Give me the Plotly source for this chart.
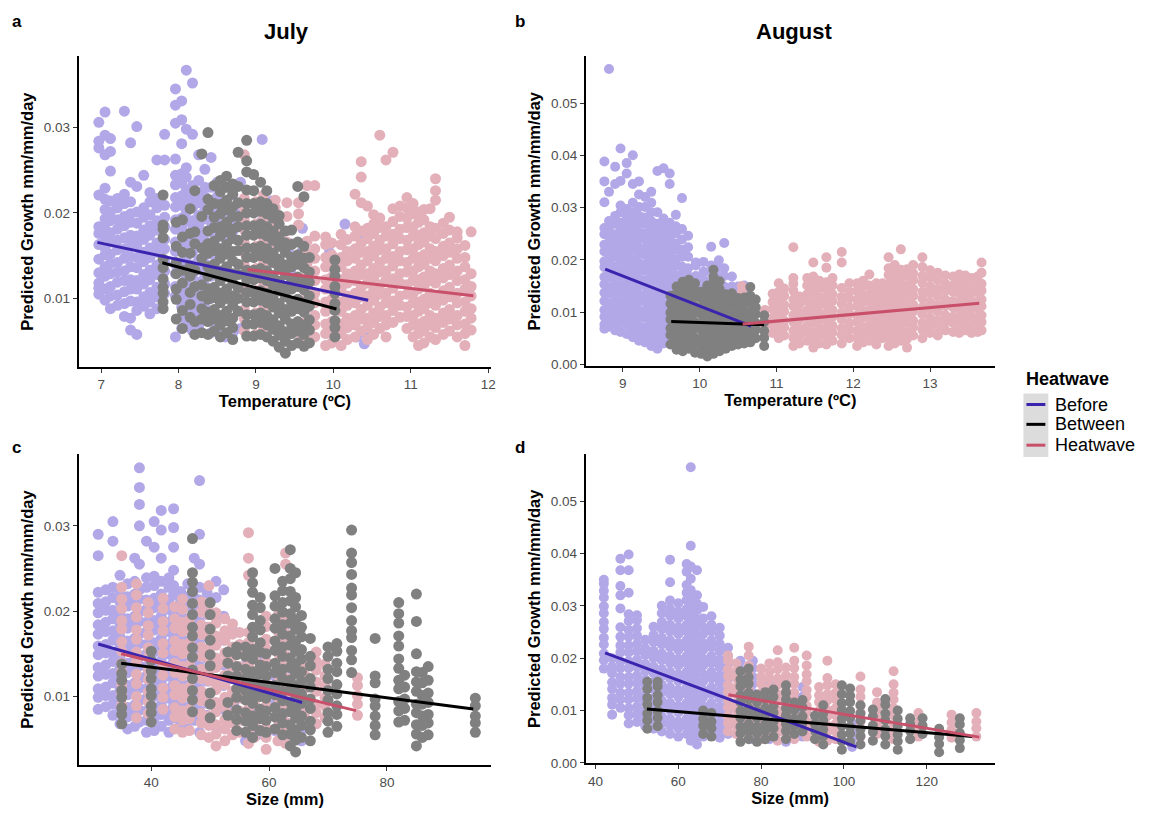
import plotly.graph_objects as go

# ---------------- DATA (stripes: (x, [y values])) ----------------
# Panel a: July, temperature
a_before = [
    (6.97, [.0105, .0112, .0118, .013, .0146, .0163, .0176, .0184, .0221, .0276, .0284, .0306]),
    (7.05, [.0098, .0111, .0126, .0137, .0151, .0159, .0172, .0181, .0193, .0204, .0216, .0229, .0268, .0291, .0318]),
    (7.12, [.0088, .0103, .0114, .0129, .0141, .0152, .0166, .0177, .0191, .0201, .0214, .0249, .0272, .0287]),
    (7.21, [.0092, .0104, .0119, .0131, .0142, .0157, .0168, .0181, .0192, .0206, .0217]),
    (7.3, [.0079, .0094, .0108, .0121, .0132, .0147, .0158, .0171, .0185, .0196, .0211, .0222, .0319]),
    (7.38, [.0063, .0077, .0097, .0111, .0122, .0137, .0149, .0163, .0174, .0189, .0199, .0213, .0236, .0282]),
    (7.46, [.0058, .0086, .0096, .0111, .0121, .0136, .0148, .0162, .0173, .0188, .0201, .0231, .0301]),
    (7.55, [.0091, .0102, .0117, .0128, .0143, .0154, .0169, .018, .0195, .0206, .0244]),
    (7.63, [.0082, .0096, .0107, .0122, .0133, .0148, .0159, .0174, .0185, .0198, .0213, .0224]),
    (7.72, [.0088, .0102, .0113, .0128, .0139, .0154, .0165, .018, .0191, .0206, .0217, .0262]),
    (7.82, [.0106, .0117, .0132, .0143, .0158, .0169, .0184, .0195, .0209, .0262, .0292]),
    (7.96, [.0055, .0103, .0114, .0129, .014, .0155, .0166, .0181, .0192, .0207, .0218, .0233, .0244, .0263, .0305, .0326, .0345]),
    (8.04, [.0065, .0079, .009, .0105, .0116, .0131, .0142, .0157, .0168, .0183, .0194, .0209, .022, .0235, .0246, .0281, .0309, .0331]),
    (8.1, [.0072, .0086, .0097, .0112, .0123, .0138, .0149, .0164, .0175, .019, .0201, .0216, .0227, .0242, .0253, .0298, .0367]),
    (8.18, [.0062, .0076, .0087, .0102, .0113, .0128, .0139, .0154, .0165, .018, .0191, .0206, .0217, .0232, .0292, .0352]),
    (8.26, [.0068, .0082, .0093, .0108, .0119, .0134, .0145, .016, .0171, .0186, .0197, .0212, .0223, .0238, .0268]),
    (8.34, [.0075, .0089, .01, .0115, .0126, .0141, .0152, .0167, .0178, .0193, .0204, .0219, .023, .0251]),
    (8.42, [.006, .0074, .0085, .01, .0111, .0126, .0137, .0152, .0163, .0178, .0189, .0204, .0215, .023, .0265]),
    (8.5, [.0065, .0146, .0159, .0176, .0189, .0206, .0219, .0236]),
    (8.6, [.0055, .0171, .0184, .0201, .0214, .0231]),
    (8.7, [.006, .0178, .0193, .0205, .0221]),
    (8.8, [.0065, .0191, .0204, .0236]),
    (9.08, [.0161, .0174, .0191, .0204, .0286]),
    (9.2, [.0156, .0169, .0186, .0214]),
    (9.45, [.0134, .0151, .0164]),
    (9.6, [.0156, .0182]),
    (9.95, [.0066, .0138, .0154]),
    (10.15, [.0068, .0146, .0187]),
    (10.3, [.0055, .0126]),
    (10.4, [.0047, .0061, .0175]),
]
a_between = [
    (7.8, [.0088, .0096, .0106, .0113, .0123, .0136, .0146, .0171, .0181, .0186, .0221]),
    (7.97, [.0076, .0099, .0111, .0129, .0142, .0161, .0189]),
    (8.05, [.0065, .0086, .0118, .0133, .0154, .0172, .0192]),
    (8.15, [.0078, .0093, .0107, .0126, .0138, .0153, .0176, .0205]),
    (8.21, [.0058, .0073, .0114, .0133, .0164, .0178, .0226]),
    (8.3, [.006, .0076, .0088, .0103, .0116, .0147, .0159, .0196, .0269]),
    (8.38, [.0058, .0073, .0084, .0099, .0111, .0126, .0137, .0153, .0164, .0179, .0204, .0216, .0294]),
    (8.46, [.0062, .0076, .0087, .0101, .0113, .0129, .014, .0156, .0167, .0183, .0195, .0211, .0232]),
    (8.54, [.0055, .0069, .008, .0095, .0106, .0121, .0132, .0147, .0158, .0173, .0184, .0199, .021, .0225, .0238]),
    (8.62, [.006, .0074, .0085, .01, .0111, .0126, .0137, .0152, .0163, .0178, .0189, .0204, .0215, .023, .0243]),
    (8.7, [.0052, .0066, .0077, .0092, .0103, .0118, .0129, .0144, .0155, .017, .0181, .0196, .0207, .0222, .0234]),
    (8.77, [.0085, .01, .0112, .0128, .014, .0156, .0168, .0184, .0196, .0212, .0231, .0271]),
    (8.88, [.0056, .007, .0081, .0096, .0107, .0122, .0133, .0148, .0159, .0174, .0185, .02, .0211, .0227, .0248, .0261, .0285]),
    (8.97, [.0056, .007, .0081, .0096, .0107, .0122, .0133, .0148, .0159, .0174, .0185, .02, .0211, .0226, .0245]),
    (9.06, [.0058, .0072, .0083, .0098, .0109, .0124, .0135, .015, .0161, .0176, .0187, .0202, .0213, .0236]),
    (9.14, [.0055, .0069, .008, .0095, .0106, .0121, .0132, .0147, .0158, .0173, .0184, .0199, .0211, .0226]),
    (9.22, [.005, .0064, .0075, .009, .0101, .0116, .0127, .0142, .0153, .0168, .0179, .0194, .0205]),
    (9.3, [.0043, .0057, .0068, .0083, .0094, .0109, .012, .0135, .0146, .0161, .0172, .0187, .0197]),
    (9.38, [.0036, .005, .0061, .0076, .0087, .0102, .0113, .0128, .0139, .0154, .0165, .0179]),
    (9.46, [.0045, .0059, .007, .0085, .0096, .0111, .0122, .0137, .0148, .0163, .018]),
    (9.54, [.0048, .0062, .0073, .0088, .0099, .0114, .0125, .014, .0151, .0166, .0231]),
    (9.62, [.0044, .0058, .0069, .0084, .0095, .011, .0121, .0136, .0147, .0161, .0219]),
    (9.69, [.0048, .0063, .0075, .0091, .0103, .0119, .0131, .0148]),
    (10.02, [.0055, .0066, .0074, .0086, .0094, .0106, .0114, .0126, .0134, .0145]),
]
a_heatwave = [
    (8.85, [.0062, .0076, .0087, .0102, .0113, .0128, .0139, .0154, .0165, .018, .0191, .0206, .0217, .0268]),
    (9.0, [.0058, .0072, .0083, .0098, .0109, .0124, .0135, .015, .0161, .0176, .0187, .0202, .0213]),
    (9.1, [.0065, .0079, .009, .0105, .0116, .0131, .0142, .0157, .0168, .0183, .0194, .0209, .0221]),
    (9.25, [.0146, .0159, .0176, .0189, .0206, .0215]),
    (9.4, [.0085, .0166, .0179, .0196, .0212]),
    (9.55, [.006, .0186, .0199, .0212]),
    (9.66, [.005, .0063, .0074, .0089, .01, .0115, .0126, .0141, .0152, .0167, .0232]),
    (9.76, [.0055, .0069, .008, .0095, .0106, .0121, .0132, .0147, .0158, .0173, .0232]),
    (9.9, [.0045, .0059, .007, .0085, .0096, .0111, .0122, .0137, .0148, .0163, .0172]),
    (9.98, [.0048, .0062, .0073, .0088, .0099, .0114, .0125, .014, .0151, .0165]),
    (10.1, [.0045, .0059, .007, .0085, .0096, .0111, .0122, .0137, .0148, .0163, .0175]),
    (10.18, [.0052, .0066, .0077, .0092, .0103, .0118, .0129, .0144, .0155, .0169]),
    (10.28, [.0055, .0069, .008, .0095, .0106, .0121, .0132, .0147, .0158, .0173, .0184, .0222]),
    (10.36, [.0062, .0076, .0087, .0102, .0113, .0128, .0139, .0154, .0165, .0179, .0212, .0242, .026]),
    (10.44, [.0052, .0066, .0077, .0092, .0103, .0118, .0129, .0144, .0155, .017, .0182, .0208]),
    (10.52, [.0058, .0072, .0083, .0098, .0109, .0124, .0135, .015, .0161, .0176, .0187, .0198]),
    (10.6, [.0065, .0079, .009, .0105, .0116, .0131, .0142, .0157, .0168, .0183, .0194, .0291]),
    (10.68, [.0055, .0069, .008, .0095, .0106, .0121, .0132, .0147, .0158, .0173, .0184, .0262]),
    (10.77, [.0072, .0086, .0097, .0112, .0123, .0138, .0149, .0164, .0175, .019, .0205, .0271]),
    (10.86, [.0078, .0092, .0103, .0118, .0129, .0144, .0155, .017, .0181, .0196, .0208]),
    (10.95, [.0065, .0079, .009, .0105, .0116, .0131, .0142, .0157, .0168, .0183, .0194, .0206, .0218]),
    (11.03, [.0055, .0069, .008, .0095, .0106, .0121, .0132, .0147, .0158, .0173, .0184, .0199, .0211]),
    (11.1, [.0045, .0059, .007, .0085, .0096, .0111, .0122, .0137, .0148, .0163, .0174, .0189, .0201]),
    (11.17, [.0048, .0062, .0073, .0088, .0099, .0114, .0125, .014, .0151, .0166, .0177, .0192, .0204]),
    (11.25, [.0055, .0069, .008, .0095, .0106, .0121, .0132, .0147, .0158, .0173, .0184, .0205]),
    (11.32, [.0052, .0066, .0077, .0092, .0103, .0118, .0129, .0144, .0155, .017, .0182, .0215, .0226, .024]),
    (11.42, [.0058, .0072, .0083, .0098, .0109, .0124, .0135, .015, .0161, .0176, .0188]),
    (11.5, [.0062, .0076, .0087, .0102, .0113, .0128, .0139, .0154, .0165, .018, .0195]),
    (11.6, [.0055, .0069, .008, .0095, .0106, .0121, .0132, .0147, .0158, .0171, .0178]),
    (11.7, [.0045, .0059, .007, .0085, .0096, .0111, .0122, .0137, .0148, .0162]),
    (11.78, [.0063, .0077, .0088, .0103, .0114, .0129, .0178]),
]

# Panel b: August, temperature
b_before = [
    (8.76, [.0068, .0076, .0091, .0104, .0121, .0137, .0153, .0167, .0186, .0197, .0216, .0229, .0249, .0261, .031, .035, .0388]),
    (8.82, [.0072, .0087, .0103, .0117, .0136, .0147, .0166, .0179, .0196, .0211, .0229, .0244, .0261, .0274, .033, .0565]),
    (8.9, [.0065, .0081, .0094, .0111, .0124, .0141, .0157, .0173, .0187, .0206, .0219, .0236, .0249, .0269, .0284, .0345, .0378]),
    (8.97, [.0062, .0079, .0091, .0109, .0121, .0139, .0151, .0169, .0181, .0199, .0211, .0229, .0241, .0259, .0271, .0291, .0304, .0351, .0413]),
    (9.05, [.0058, .0076, .0087, .0103, .0117, .0133, .0147, .0163, .0177, .0193, .0207, .0223, .0237, .0253, .0267, .0283, .0297, .0365, .0385]),
    (9.13, [.0052, .0069, .0081, .0099, .0111, .0129, .0141, .0159, .0171, .0189, .0201, .0219, .0231, .0249, .0261, .0279, .0291, .0309, .0345, .04]),
    (9.21, [.0045, .0061, .0074, .0091, .0104, .0121, .0134, .0151, .0164, .0181, .0194, .0211, .0224, .0241, .0254, .0271, .0284, .0301, .0325, .035]),
    (9.29, [.0042, .0059, .0071, .0089, .0101, .0119, .0131, .0149, .0161, .0179, .0191, .0209, .0221, .0239, .0251, .0269, .0281, .0301, .032]),
    (9.37, [.0035, .0051, .0064, .0081, .0094, .0111, .0124, .0141, .0154, .0171, .0184, .0201, .0214, .0231, .0244, .0261, .0274, .0291, .0309, .033]),
    (9.45, [.003, .0046, .0059, .0076, .0089, .0106, .0119, .0136, .0149, .0166, .0179, .0196, .0209, .0226, .0239, .0256, .0269, .0291, .037]),
    (9.53, [.004, .0056, .0069, .0086, .0099, .0116, .0129, .0146, .0159, .0176, .0189, .0206, .0219, .0236, .0249, .0266, .0279, .0375]),
    (9.61, [.0045, .0061, .0074, .0091, .0104, .0121, .0134, .0151, .0164, .0181, .0194, .0211, .0224, .0241, .0254, .0271, .0345, .0365]),
    (9.69, [.0052, .0069, .0081, .0099, .0111, .0129, .0141, .0159, .0171, .0189, .0201, .0219, .0231, .0251, .0264, .0286]),
    (9.77, [.0058, .0086, .0117, .0139, .0154, .0173, .0187, .0206, .0219, .0239, .0259, .0318]),
    (9.85, [.0112, .0131, .0147, .0169, .0184, .0206, .0224, .0246]),
    (9.95, [.0135, .0153, .0169, .0189, .0195]),
    (10.05, [.0145, .0163, .0177, .0196]),
    (10.15, [.0125, .0143, .0157, .0176, .0189, .0225]),
    (10.25, [.0138, .0153, .0167, .0186, .0199]),
    (10.32, [.012, .0136, .0149, .0169, .0184, .0232]),
    (10.42, [.0115, .0133, .0149, .0168]),
    (10.5, [.0098, .0116, .0131, .0149]),
    (10.58, [.0085, .0106, .0119, .0136, .0151]),
    (10.66, [.006, .0079, .0094]),
]
b_between = [
    (9.62, [.0038, .0056, .0069, .0086, .0099, .0116, .0131]),
    (9.7, [.0028, .0046, .0059, .0076, .0089, .0106, .0119, .0136, .0149]),
    (9.78, [.0025, .0041, .0054, .0071, .0084, .0101, .0114, .0131, .0144, .0158]),
    (9.86, [.003, .0046, .0059, .0076, .0089, .0106, .0119, .0136, .0149, .0162]),
    (9.94, [.0022, .0039, .0051, .0069, .0081, .0099, .0111, .0129, .0141, .0155]),
    (10.02, [.002, .0036, .0049, .0066, .0079, .0096, .0109, .0126, .0139]),
    (10.1, [.0015, .0031, .0044, .0061, .0074, .0091, .0104, .0121, .0134, .0151]),
    (10.18, [.002, .0036, .0049, .0066, .0079, .0096, .0109, .0126, .0139, .0156, .0167, .0181]),
    (10.26, [.0025, .0041, .0054, .0071, .0084, .0101, .0114, .0131, .0144, .0159]),
    (10.34, [.003, .0046, .0059, .0076, .0089, .0106, .0119, .0134]),
    (10.42, [.0035, .0051, .0064, .0081, .0094, .0111, .0124, .0136]),
    (10.5, [.0038, .0053, .0067, .0083, .0097, .0113, .0127]),
    (10.58, [.004, .0056, .0069, .0086, .0099, .0116, .0128]),
    (10.66, [.0042, .0059, .0071, .0089, .0101, .0119, .0131, .0148]),
    (10.73, [.005, .0066, .0079, .0096, .0109, .0124]),
    (10.84, [.0035, .0051, .0064, .0081, .0094]),
]
b_heatwave = [
    (10.55, [.0095, .0111, .0124, .0139, .015]),
    (10.63, [.007, .0086, .0099, .0116, .0128]),
    (10.72, [.008, .0096, .0109, .0124]),
    (10.85, [.0075, .0091, .0104]),
    (10.95, [.006, .0076, .0089, .0106, .0119, .0135]),
    (11.03, [.005, .0066, .0079, .0096, .0109, .0126, .0139, .0155]),
    (11.1, [.0055, .0071, .0084, .0101, .0114, .0131, .0145]),
    (11.22, [.0035, .0051, .0064, .0081, .0094, .0111, .0124, .0141, .0154, .0165, .0224]),
    (11.3, [.004, .0056, .0069, .0086, .0099, .0116, .013]),
    (11.4, [.0045, .0061, .0074, .0091, .0104, .0121, .0134, .0151, .0165]),
    (11.48, [.0032, .0049, .0061, .0079, .0091, .0109, .0121, .0139, .0151, .0168, .0195]),
    (11.56, [.004, .0056, .0069, .0086, .0099, .0116, .0129, .0146, .016]),
    (11.65, [.0038, .0053, .0067, .0083, .0097, .0113, .0127, .0143, .0157, .0185, .0205]),
    (11.73, [.0045, .0061, .0074, .0091, .0104, .0121, .0134, .0151, .0165]),
    (11.85, [.004, .0056, .0069, .0086, .0099, .0116, .0129, .0146, .0195, .0215]),
    (11.95, [.005, .0066, .0079, .0096, .0109, .0126, .0139, .0155]),
    (12.05, [.0035, .0051, .0064, .0081, .0094, .0111, .0124, .0141, .0155]),
    (12.13, [.0042, .0059, .0071, .0089, .0101, .0119, .0131, .0149, .016]),
    (12.21, [.0045, .0061, .0074, .0091, .0104, .0121, .0134, .0151, .0172]),
    (12.3, [.0038, .0053, .0067, .0083, .0097, .0113, .0127, .0143, .0155]),
    (12.38, [.005, .0066, .0079, .0096, .0109, .0126, .0139, .0155]),
    (12.46, [.0035, .0051, .0064, .0081, .0094, .0111, .0124, .0141, .0154, .0171, .0184, .0205]),
    (12.54, [.004, .0056, .0069, .0086, .0099, .0116, .0129, .0146, .0159, .0176, .019]),
    (12.62, [.0045, .0061, .0074, .0091, .0104, .0121, .0134, .0151, .0164, .0181, .022]),
    (12.7, [.0032, .0049, .0061, .0079, .0091, .0109, .0121, .0139, .0151, .0169, .0182]),
    (12.78, [.0055, .0071, .0084, .0101, .0114, .0131, .0144, .0161, .0174, .019]),
    (12.9, [.005, .0066, .0079, .0096, .0109, .0126, .0139, .0156, .0169, .0186, .0205]),
    (13.0, [.006, .0076, .0089, .0106, .0119, .0136, .0149, .0166, .018]),
    (13.1, [.0055, .0071, .0084, .0101, .0114, .0131, .0144, .0161, .0175]),
    (13.2, [.0065, .0081, .0094, .0111, .0124, .0141, .0154, .017]),
    (13.3, [.0062, .0079, .0091, .0109, .0121, .0139, .0151, .0168]),
    (13.38, [.006, .0076, .0089, .0106, .0119, .0136, .0149, .0164, .0172]),
    (13.46, [.0065, .0081, .0094, .0111, .0124, .0141, .0154, .017]),
    (13.54, [.006, .0076, .0089, .0106, .0119, .0136, .0149, .0165]),
    (13.62, [.0062, .0079, .0091, .0109, .0121, .0139, .0151, .0168]),
    (13.67, [.0065, .0081, .0094, .0111, .0124, .0141, .0154, .0175, .0195]),
]

# Panel c: July, size
c_before = [
    (31.0, [.0085, .0099, .0109, .0124, .0134, .0149, .0159, .0173, .0184, .0198, .0209, .0222, .0265, .029]),
    (32.3, [.0088, .0101, .0111, .0126, .0137, .0151, .0161, .0176, .0187, .0201, .0211, .0225]),
    (33.5, [.0078, .0091, .0101, .0116, .0127, .0141, .0151, .0166, .0177, .0191, .0201, .0216, .0228, .0282, .0305]),
    (34.7, [.0068, .0083, .0094, .0109, .0119, .0134, .0145, .0159, .017, .0185, .0196, .0211, .0225, .0242]),
    (36.0, [.0062, .0076, .0087, .0102, .0113, .0128, .0139, .0154, .0165, .018, .0191, .0206, .0217, .0232]),
    (37.2, [.0065, .0079, .009, .0105, .0116, .0131, .0142, .0157, .0168, .0183, .0194, .0209, .022, .0235, .0262]),
    (38.0, [.007, .0084, .0095, .011, .0121, .0136, .0147, .0162, .0173, .0188, .0199, .0214, .0225, .0255, .03, .0325, .0345, .0368]),
    (39.2, [.0058, .0072, .0083, .0098, .0109, .0124, .0135, .015, .0161, .0176, .0187, .0202, .0213, .0228, .0239, .0282]),
    (40.5, [.006, .0074, .0085, .01, .0111, .0126, .0137, .0152, .0163, .0178, .0189, .0204, .0215, .023, .0241, .0275, .0305]),
    (41.7, [.0065, .0079, .009, .0105, .0116, .0131, .0142, .0157, .0168, .0183, .0194, .0209, .022, .0235, .0262, .0295, .0318]),
    (43.0, [.0058, .0072, .0083, .0098, .0109, .0124, .0135, .015, .0161, .0176, .0187, .0202, .0213, .0228, .0239]),
    (43.8, [.0075, .0089, .01, .0115, .0126, .0141, .0152, .0167, .0178, .0193, .0204, .0219, .023, .0248, .0275, .0298, .032]),
    (45.0, [.0068, .0082, .0093, .0108, .0119, .0134, .0145, .016, .0171, .0186, .0197, .0212, .0223]),
    (46.2, [.0062, .0076, .0087, .0102, .0113, .0128, .0139, .0154, .0165, .018, .0191, .0206, .0217, .0232]),
    (47.3, [.0072, .0086, .0097, .0112, .0123, .0138, .0149, .0164, .0175, .019, .0201, .0216, .0227, .0262]),
    (48.2, [.0058, .0072, .0083, .0098, .0109, .0124, .0135, .015, .0161, .0176, .0187, .0202, .0213, .0228, .0255, .029, .0353]),
    (49.5, [.0078, .0092, .0103, .0118, .0129, .0144, .0155, .017, .0181, .0196, .0207, .0221]),
    (51.0, [.0065, .0088, .0116, .0141, .0169, .0194, .0216, .0235]),
    (52.3, [.0085, .0113, .0137, .0166, .0194, .0225]),
    (54.0, [.009, .0121, .0149, .0176]),
    (56.0, [.0048, .0076, .0104, .0136, .0159]),
    (58.0, [.0055, .0086, .0114, .0148]),
    (61.0, [.006, .0091, .0124]),
    (63.0, [.0052, .0083, .0124, .0185]),
    (65.5, [.0048, .0061, .0076, .0087, .01]),
]
c_between = [
    (35.0, [.0068, .0079, .0087, .0099, .0107, .0119, .0127, .0138]),
    (40.0, [.007, .0081, .0089, .0101, .0109, .0121, .013, .0142, .0153]),
    (47.0, [.0082, .0096, .0107, .0121, .0131, .0146, .0157, .0171, .0181, .0196, .0209, .0223, .0234, .0245, .0285]),
    (50.0, [.0075, .0091, .0104, .0136, .0149, .0166, .0179, .0196, .021]),
    (53.0, [.0078, .0093, .0124, .0139, .0152]),
    (54.5, [.006, .0073, .0084, .0099, .0109, .0124, .0135, .0149, .0158]),
    (56.0, [.0058, .0071, .0081, .0096, .0107, .0121, .0132, .0147, .0158]),
    (57.2, [.0052, .0066, .0077, .0092, .0103, .0118, .0129, .0144, .0155, .017, .0181, .0196, .0207, .0222, .0233, .0245]),
    (58.5, [.006, .0074, .0085, .01, .0111, .0126, .0137, .0152, .0163, .0178, .0189, .0204, .0216]),
    (59.5, [.0058, .0072, .0083, .0098, .0109, .0124, .0135, .015]),
    (61.0, [.0062, .0076, .0087, .0102, .0113, .0128, .0139, .0154, .0165, .018, .0191, .0206, .0218, .025]),
    (62.3, [.0055, .0069, .008, .0095, .0106, .0121, .0132, .0147, .0158, .0173, .0184, .0199, .021, .0224, .0235]),
    (63.6, [.0042, .0056, .0067, .0082, .0093, .0108, .0119, .0134, .0145, .016, .0171, .0186, .0197, .0212, .0223, .0238, .025, .0272]),
    (64.5, [.0035, .0049, .006, .0075, .0086, .0101, .0112, .0127, .0138, .0153, .0164, .0179, .019, .0205, .0216, .0245]),
    (65.5, [.0052, .0066, .0077, .0092, .0103, .0118, .0129, .0144, .0155, .017, .0181, .0195]),
    (67.0, [.0048, .0061, .0071, .0086, .0097, .0111, .0121, .0136, .0147, .0168]),
    (70.0, [.0058, .0071, .0081, .0096, .0107, .0121, .0132, .0147, .0158]),
    (71.5, [.0065, .0079, .0089, .0103, .0114, .0129, .0139, .0153, .0162]),
    (74.0, [.0128, .0143, .0154, .0169, .0177, .0189, .0204, .0219, .0227, .0243, .0257, .0268, .0295]),
    (78.0, [.0055, .0066, .0077, .0089, .0097, .0116, .0124, .0168]),
    (82.0, [.007, .0083, .0094, .0109, .0119, .0133, .0144, .0159, .0171, .0186, .0197, .021]),
    (83.0, [.0072, .0086, .0097, .0111, .0125]),
    (85.0, [.0042, .0056, .0067, .0081, .0091, .0106, .0117, .0129, .015, .0188, .022]),
    (86.0, [.0052, .0066, .0077, .0091, .0101, .0116, .0128]),
    (87.0, [.0055, .0069, .0079, .0093, .0104, .0119, .0135]),
    (95.0, [.0058, .0069, .0077, .0089, .0098]),
]
c_heatwave = [
    (35.0, [.009, .0103, .0114, .0129, .0139, .0153, .0164, .0179, .0189, .0203, .0214, .0228, .0265]),
    (37.5, [.0075, .0089, .01, .0115, .0126, .0141, .0152, .0167, .0178, .0193, .0204, .0219, .0232]),
    (39.5, [.008, .0094, .0105, .012, .0131, .0146, .0157, .0172, .0183, .0198, .021]),
    (42.0, [.0085, .0099, .011, .0125, .0136, .0151, .0162, .0177, .0188, .0203, .0215]),
    (44.0, [.0062, .0076, .0087, .0102, .0113, .0128, .0139, .0154, .0165, .018, .0191, .0205]),
    (45.3, [.0058, .0072, .0083, .0098, .0109, .0124, .0135, .015, .0161, .0176, .0187, .0202, .0214]),
    (46.5, [.006, .0074, .0085, .01, .0111, .0126, .0137, .0152, .0163, .0178, .019]),
    (48.5, [.0055, .0069, .008, .0095, .0106, .0121, .0132, .0147, .0158, .0173, .0184, .0199, .0211]),
    (49.8, [.0052, .0066, .0077, .0092, .0103, .0118, .0129, .0144, .0155, .017, .0181, .0196, .0208, .023]),
    (51.0, [.0042, .0056, .0067, .0082, .0093, .0108, .0119, .0134, .0145, .016, .0171, .0186, .0198]),
    (52.5, [.0048, .0062, .0073, .0088, .0099, .0114, .0125, .014, .0151, .0166, .0177, .0191]),
    (53.8, [.0055, .0069, .008, .0095, .0106, .0121, .0132, .0147, .0158, .0173, .0185]),
    (55.0, [.0058, .0072, .0083, .0098, .0109, .0124, .0135, .015, .0161, .0175]),
    (56.5, [.0045, .0059, .007, .0085, .0096, .0111, .0122, .0137, .0148, .0163, .0175, .0242, .0262, .0292]),
    (57.5, [.0052, .0066, .0077, .0092, .0103, .0118, .0129, .0144, .0156]),
    (59.5, [.0038, .0052, .0063, .0078, .0089, .0104, .0115, .013, .0141, .0156, .0167, .0182, .0194]),
    (61.5, [.0048, .0062, .0073, .0088, .0099, .0114, .0125, .014, .0151, .0166, .0177, .0195]),
    (62.8, [.0045, .0059, .007, .0085, .0096, .0111, .0122, .0137, .0148, .0163, .0174, .0188, .0255, .0268]),
    (66.0, [.008, .0096, .0109, .0126, .014]),
    (68.0, [.0068, .0081, .0091, .0106, .0117, .0131, .0141, .0152]),
    (69.5, [.0075, .0089, .0099, .0113, .0124, .0138]),
    (75.0, [.0078, .0091, .0101, .0113, .0122]),
]

# Panel d: August, size
d_before = [
    (42.0, [.018, .0196, .0209, .0226, .0239, .0256, .0269, .0286, .0299, .0316, .0329, .0342, .035]),
    (44.0, [.0092, .0111, .0124, .0141, .0154, .0171, .0184, .02]),
    (46.0, [.0105, .0121, .0134, .0151, .0164, .0181, .0194, .0211, .0224, .0241, .0259, .0295, .032, .0338, .0368, .039]),
    (48.0, [.0075, .0091, .0104, .0121, .0134, .0151, .0164, .0181, .0194, .0211, .0224, .0241, .0254, .0271, .0284, .0325, .0368, .0398]),
    (50.0, [.0078, .0093, .0107, .0123, .0137, .0153, .0167, .0183, .0197, .0213, .0227, .0243, .0257, .0273, .0282]),
    (52.0, [.007, .0086, .0099, .0116, .0129, .0146, .0159, .0176, .0189, .0206, .0219, .0235]),
    (54.0, [.0065, .0081, .0094, .0111, .0124, .0141, .0154, .0171, .0184, .0201, .0214, .0231, .0244, .026]),
    (56.0, [.006, .0076, .0089, .0106, .0119, .0136, .0149, .0166, .0179, .0196, .0209, .0226, .0239, .0256, .0269, .0286, .03]),
    (58.0, [.0055, .0071, .0084, .0101, .0114, .0131, .0144, .0161, .0174, .0191, .0204, .0221, .0234, .0251, .0264, .0281, .0294, .031, .0345, .0388]),
    (60.0, [.005, .0066, .0079, .0096, .0109, .0126, .0139, .0156, .0169, .0186, .0199, .0216, .0229, .0246, .0259, .0276, .0289, .0305]),
    (62.0, [.0055, .0071, .0084, .0101, .0114, .0131, .0144, .0161, .0174, .0191, .0204, .0221, .0234, .0251, .0264, .0281, .0294, .0311, .0325, .034, .0365, .038]),
    (63.0, [.0042, .0059, .0071, .0089, .0101, .0119, .0131, .0149, .0161, .0179, .0191, .0209, .0221, .0239, .0251, .0269, .0281, .0299, .0315, .033, .0352, .0375, .0415, .0565]),
    (64.5, [.0035, .0051, .0064, .0081, .0094, .0111, .0124, .0141, .0154, .0171, .0184, .0201, .0214, .0231, .0244, .0261, .0274, .0291, .0304, .032, .0368]),
    (66.0, [.005, .0066, .0079, .0096, .0109, .0126, .0139, .0156, .0169, .0186, .0199, .0216, .0229, .0246, .0259, .0276, .0298]),
    (68.0, [.0055, .0071, .0084, .0101, .0114, .0131, .0144, .0161, .0174, .0191, .0204, .0221, .0234, .0251, .0264, .028]),
    (70.0, [.0048, .0063, .0077, .0093, .0107, .0123, .0137, .0153, .0167, .0183, .0197, .0213, .0227, .0243, .0258]),
    (72.0, [.0055, .0071, .0084, .0101, .0114, .0131, .0144, .0161, .0174, .0191, .0204, .022]),
    (75.0, [.006, .0076, .0089, .0106, .0119, .0136, .0149, .0166, .0179, .0195]),
    (78.0, [.0045, .0061, .0074, .0091, .0104, .0121, .0134, .0151, .0164, .0181, .0195]),
    (82.0, [.0045, .0061, .0074, .0091, .0104, .0121, .0134, .015]),
    (86.0, [.004, .0056, .0069, .0086, .01]),
    (90.0, [.005, .0066, .0079, .0096, .0109, .0126, .0145]),
    (102.0, [.003, .0046, .0059, .0075]),
]
d_between = [
    (52.5, [.0065, .0081, .0094, .0111, .0124, .0141, .0155]),
    (55.0, [.007, .0086, .0099, .0116, .0129, .0146, .0155]),
    (66.0, [.0055, .0071, .0084, .01]),
    (68.0, [.005, .0066, .0079, .0095]),
    (75.0, [.004, .0056, .0069, .0086, .0099, .0116, .0129, .0146, .0159, .0175]),
    (77.0, [.0045, .0061, .0074, .0091, .0104, .0121, .0134, .0151, .0164, .018]),
    (79.0, [.004, .0056, .0069, .0086, .0099, .0116, .013]),
    (81.0, [.0045, .0061, .0074, .0091, .0104, .0121, .0135]),
    (83.0, [.005, .0066, .0079, .0096, .0109, .0126, .014]),
    (86.0, [.0045, .0061, .0074, .0091, .0104, .0121, .0134, .0148]),
    (88.0, [.0055, .0071, .0084, .0101, .0115]),
    (90.0, [.006, .0076, .0089, .0106, .012]),
    (93.0, [.0045, .0061, .0074, .009]),
    (95.0, [.0035, .0051, .0064, .0081, .0094, .011]),
    (99.5, [.0025, .0041, .0054, .0071, .0084, .0101, .0114, .0131, .0148]),
    (101.5, [.004, .0056, .0069, .0086, .0099, .0116, .0128, .0142]),
    (104.0, [.0035, .0051, .0064, .0081, .0094, .011]),
    (107.0, [.0042, .0059, .0071, .0089, .0102]),
    (110.0, [.0035, .0051, .0064, .0081, .0094, .0111, .0122]),
    (113.0, [.0025, .0041, .0054, .0071, .0084, .01]),
    (116.0, [.0045, .0061, .0074, .0085]),
    (119.0, [.0055, .0071, .0085]),
    (123.0, [.002, .0036, .0049, .0065]),
    (128.0, [.0028, .0043, .0057, .0073, .0085]),
]
d_heatwave = [
    (72.0, [.006, .0076, .0089, .0106, .0119, .0136, .0149, .0166, .0179, .0196, .0205]),
    (74.0, [.0055, .0071, .0084, .0101, .0114, .0131, .0144, .0161, .0174, .019]),
    (77.0, [.005, .0066, .0079, .0096, .0109, .0126, .0139, .0156, .0169, .0186, .0205, .0222]),
    (80.0, [.0045, .0061, .0074, .0091, .0104, .0121, .0134, .0151, .0164, .018]),
    (82.0, [.0055, .0071, .0084, .0101, .0114, .0131, .0144, .0161, .0174, .019]),
    (84.0, [.0042, .0059, .0071, .0089, .0101, .0119, .0131, .0149, .0161, .0179, .0192, .0215]),
    (86.0, [.0048, .0063, .0077, .0093, .0107, .0123, .0137, .0153, .0167, .0182]),
    (88.0, [.0045, .0061, .0074, .0091, .0104, .0121, .0134, .0151, .0164, .0181, .0195, .022]),
    (91.0, [.005, .0066, .0079, .0096, .0109, .0126, .0139, .0156, .0169, .0186, .0205]),
    (94.0, [.004, .0056, .0069, .0086, .0099, .0116, .0129, .0145]),
    (96.0, [.0042, .0059, .0071, .0089, .0101, .0119, .0131, .0148, .0162, .0195]),
    (98.0, [.0045, .0061, .0074, .0091, .0104, .0121, .0134, .015]),
    (104.0, [.005, .0066, .0079, .0096, .0109, .0126, .014, .0165]),
    (108.0, [.0055, .0071, .0084, .0101, .0115, .0135]),
    (112.0, [.0045, .0061, .0074, .0091, .0104, .0121, .0134, .015, .0175]),
    (118.0, [.005, .0066, .0079, .0095]),
    (126.0, [.0048, .0063, .0077, .0092]),
    (132.0, [.005, .0066, .0079, .0095]),
]

# Fitted regression lines: (x_start, x_end), (y_start, y_end)
a_fit_before_x, a_fit_before_y = [6.95, 10.45], [0.01656, 0.0098]
a_fit_between_x, a_fit_between_y = [7.79, 10.04], [0.01417, 0.00876]
a_fit_heatwave_x, a_fit_heatwave_y = [8.89, 11.81], [0.0134, 0.01031]
b_fit_before_x, b_fit_before_y = [8.77, 10.67], [0.0182, 0.0073]
b_fit_between_x, b_fit_between_y = [9.63, 10.84], [0.0082, 0.00758]
b_fit_heatwave_x, b_fit_heatwave_y = [10.56, 13.64], [0.0077, 0.01168]
c_fit_before_x, c_fit_before_y = [31.0, 65.6], [0.01615, 0.0093]
c_fit_between_x, c_fit_between_y = [34.9, 94.65], [0.0139, 0.00853]
c_fit_heatwave_x, c_fit_heatwave_y = [34.9, 74.76], [0.0150, 0.00834]
d_fit_before_x, d_fit_before_y = [42.3, 103.0], [0.0210, 0.00303]
d_fit_between_x, d_fit_between_y = [52.4, 131.0], [0.0103, 0.0050]
d_fit_heatwave_x, d_fit_heatwave_y = [72.1, 132.7], [0.0130, 0.0049]

group_names = ["Before", "Between", "Heatwave"]
point_colors = {"Before": "#B2A8E8", "Between": "#808080", "Heatwave": "#E3B0BA"}
line_colors = {"Before": "#3A24AE", "Between": "#000000", "Heatwave": "#C8506A"}

# ---------------- FIGURE ----------------
def flatten(stripes):
    xs, ys = [], []
    for x, yl in stripes:
        for y in yl:
            xs.append(x)
            ys.append(y)
    return xs, ys

fig = go.Figure()
FONT = "Liberation Sans, Arial, Helvetica, sans-serif"

panels = [
    ("x", "y", 11, {"Before": a_before, "Between": a_between, "Heatwave": a_heatwave},
     {"Before": (a_fit_before_x, a_fit_before_y), "Between": (a_fit_between_x, a_fit_between_y),
      "Heatwave": (a_fit_heatwave_x, a_fit_heatwave_y)}),
    ("x2", "y2", 10, {"Before": b_before, "Between": b_between, "Heatwave": b_heatwave},
     {"Before": (b_fit_before_x, b_fit_before_y), "Between": (b_fit_between_x, b_fit_between_y),
      "Heatwave": (b_fit_heatwave_x, b_fit_heatwave_y)}),
    ("x3", "y3", 11, {"Before": c_before, "Between": c_between, "Heatwave": c_heatwave},
     {"Before": (c_fit_before_x, c_fit_before_y), "Between": (c_fit_between_x, c_fit_between_y),
      "Heatwave": (c_fit_heatwave_x, c_fit_heatwave_y)}),
    ("x4", "y4", 10, {"Before": d_before, "Between": d_between, "Heatwave": d_heatwave},
     {"Before": (d_fit_before_x, d_fit_before_y), "Between": (d_fit_between_x, d_fit_between_y),
      "Heatwave": (d_fit_heatwave_x, d_fit_heatwave_y)}),
]

for xa, ya, msize, pts, fits in panels:
    for g in ["Before", "Heatwave", "Between"]:
        xs, ys = flatten(pts[g])
        fig.add_trace(go.Scatter(x=xs, y=ys, mode="markers", xaxis=xa, yaxis=ya,
                                 marker=dict(size=msize, color=point_colors[g], line=dict(width=0)),
                                 showlegend=False, hoverinfo="skip"))
    for g in group_names:
        fx, fy = fits[g]
        fig.add_trace(go.Scatter(x=fx, y=fy, mode="lines", xaxis=xa, yaxis=ya,
                                 line=dict(color=line_colors[g], width=3),
                                 name=g, legendgroup=g, showlegend=False))

axis_common = dict(showline=True, linecolor="black", linewidth=1.8, ticks="outside",
                   ticklen=4, tickwidth=1, tickcolor="#333333", showgrid=False, zeroline=False,
                   tickfont=dict(size=13.5, color="#4D4D4D", family=FONT), mirror=False)
title_font = dict(size=16.5, color="black", family=FONT)

fig.update_layout(
    width=1155, height=821, margin=dict(l=0, r=0, t=0, b=0),
    paper_bgcolor="white", plot_bgcolor="white", showlegend=False,
    font=dict(family=FONT),
    xaxis=dict(domain=[0.0684, 0.4268], range=[6.71, 12.04], tickvals=[7, 8, 9, 10, 11, 12],
               title=dict(text="<b>Temperature (ºC)</b>", font=title_font, standoff=4), anchor="y", **axis_common),
    yaxis=dict(domain=[0.5493, 0.9306], range=[0.0020, 0.0383], tickvals=[0.01, 0.02, 0.03], tickformat=".2f",
               title=dict(text="<b>Predicted Growth mm/mm/day</b>", font=title_font, standoff=6), anchor="x", **axis_common),
    xaxis2=dict(domain=[0.5091, 0.8641], range=[8.52, 13.84], tickvals=[9, 10, 11, 12, 13],
                title=dict(text="<b>Temperature (ºC)</b>", font=title_font, standoff=4), anchor="y2", **axis_common),
    yaxis2=dict(domain=[0.5505, 0.9306], range=[-0.0003, 0.0589], tickvals=[0, 0.01, 0.02, 0.03, 0.04, 0.05],
                tickformat=".2f",
                title=dict(text="<b>Predicted Growth mm/mm/day</b>", font=title_font, standoff=6), anchor="x2", **axis_common),
    xaxis3=dict(domain=[0.0684, 0.4268], range=[27.7, 97.7], tickvals=[40, 60, 80],
                title=dict(text="<b>Size (mm)</b>", font=title_font, standoff=4), anchor="y3", **axis_common),
    yaxis3=dict(domain=[0.0600, 0.4421], range=[0.00195, 0.0384], tickvals=[0.01, 0.02, 0.03], tickformat=".2f",
                title=dict(text="<b>Predicted Growth mm/mm/day</b>", font=title_font, standoff=6), anchor="x3", **axis_common),
    xaxis4=dict(domain=[0.5088, 0.8641], range=[37.6, 136.4], tickvals=[40, 60, 80, 100, 120],
                title=dict(text="<b>Size (mm)</b>", font=title_font, standoff=4), anchor="y4", **axis_common),
    yaxis4=dict(domain=[0.0621, 0.4421], range=[-0.00013, 0.059], tickvals=[0, 0.01, 0.02, 0.03, 0.04, 0.05],
                tickformat=".2f",
                title=dict(text="<b>Predicted Growth mm/mm/day</b>", font=title_font, standoff=6), anchor="x4", **axis_common),
)

# Panel letters and column titles
annotations = [
    dict(text="<b>a</b>", x=10 / 1155, y=1 - 10 / 821),
    dict(text="<b>b</b>", x=515 / 1155, y=1 - 10 / 821),
    dict(text="<b>c</b>", x=10 / 1155, y=1 - 440 / 821),
    dict(text="<b>d</b>", x=515 / 1155, y=1 - 440 / 821),
]
for an in annotations:
    fig.add_annotation(xref="paper", yref="paper", xanchor="left", yanchor="top", showarrow=False,
                       font=dict(size=17, color="black", family=FONT), **an)
fig.add_annotation(text="<b>July</b>", xref="paper", yref="paper", x=287 / 1155, y=1 - 32 / 821,
                   xanchor="center", yanchor="middle", showarrow=False,
                   font=dict(size=22, color="black", family=FONT))
fig.add_annotation(text="<b>August</b>", xref="paper", yref="paper", x=797 / 1155, y=1 - 32 / 821,
                   xanchor="center", yanchor="middle", showarrow=False,
                   font=dict(size=22, color="black", family=FONT))

# Legend (ggplot style: grey key background, short line keys)
def px(xp):
    return xp / 1155

def py(yp):
    return 1 - yp / 821

fig.add_annotation(text="<b>Heatwave</b>", xref="paper", yref="paper", x=px(1028), y=py(382),
                   xanchor="left", yanchor="middle", showarrow=False,
                   font=dict(size=18, color="black", family=FONT))
fig.add_shape(type="rect", xref="paper", yref="paper", x0=px(1027), x1=px(1052), y0=py(397), y1=py(461),
              fillcolor="#DCDCDC", line=dict(width=0), layer="above")
legend_rows = [408, 428, 449]
for g, yrow in zip(group_names, legend_rows):
    fig.add_shape(type="line", xref="paper", yref="paper", x0=px(1030), x1=px(1049), y0=py(yrow), y1=py(yrow),
                  line=dict(color=line_colors[g], width=3), layer="above")
    fig.add_annotation(text=g, xref="paper", yref="paper", x=px(1057), y=py(yrow),
                       xanchor="left", yanchor="middle", showarrow=False,
                       font=dict(size=18, color="black", family=FONT))

fig.write_html("out.html")
